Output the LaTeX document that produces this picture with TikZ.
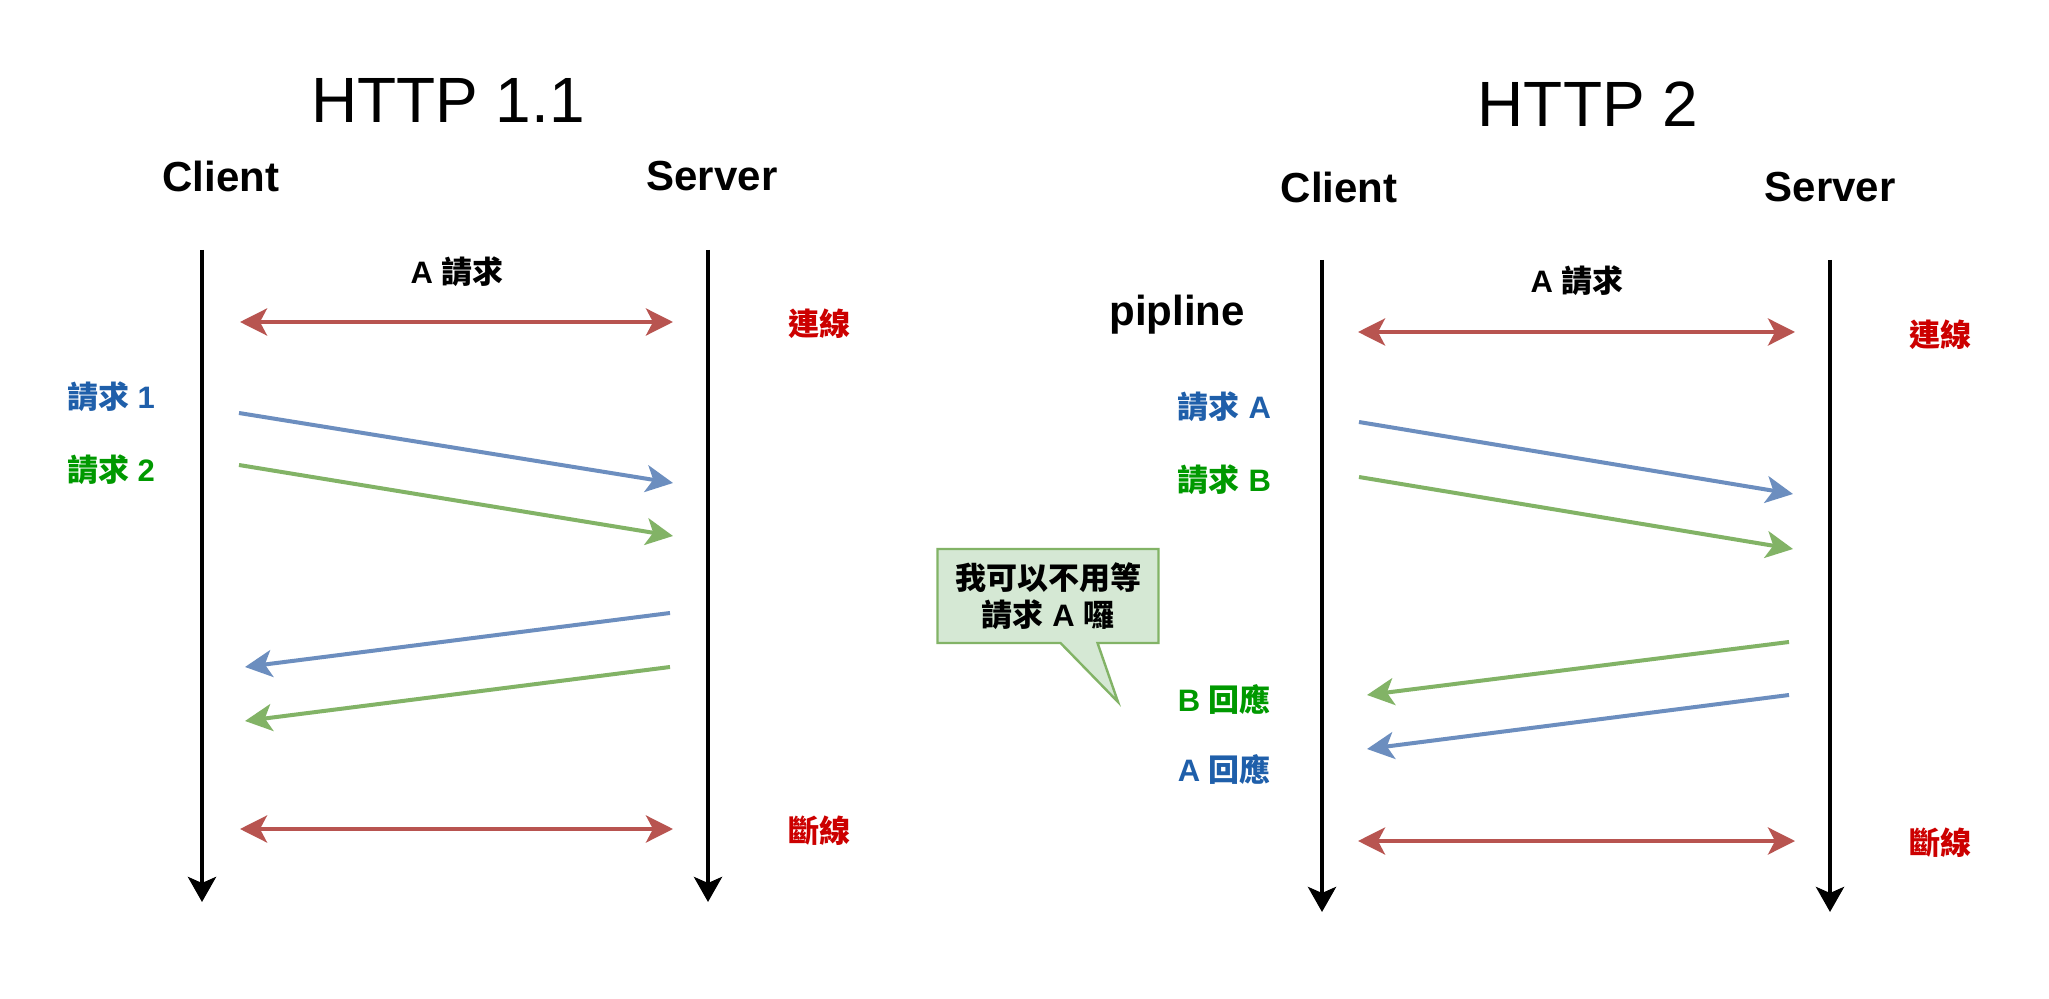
\documentclass[tikz,border=0pt]{standalone}
\usepackage{fontspec}
\setmainfont{Liberation Sans}
\newfontfamily\cjkfont{Noto Sans CJK TC}
\usetikzlibrary{arrows.meta, shapes.callouts}
\definecolor{connred}{HTML}{B85450}
\definecolor{reqblue}{HTML}{6C8EBF}
\definecolor{reqgreen}{HTML}{82B366}
\definecolor{txtred}{HTML}{CC0000}
\definecolor{txtblue}{HTML}{1F5FAA}
\definecolor{txtgreen}{HTML}{009900}
\definecolor{notefill}{HTML}{D5E8D4}
\newcommand{\zh}[1]{{\cjkfont\bfseries #1}}

\begin{document}
\begin{tikzpicture}[
  x=0.5pt, y=-0.5pt,
  font=\bfseries\fontsize{15.5}{18.5}\selectfont,
  msghd/.tip={Stealth[length=13.5pt, width=13.5pt, inset=3.5pt]},
  lifehd/.tip={Stealth[length=12.5pt, width=14pt, inset=3pt]},
  title/.style={font=\fontsize{32}{36}\selectfont},
  role/.style={font=\bfseries\fontsize{21}{24}\selectfont},
  life/.style={-lifehd, line width=2.2pt},
  twoway/.style={msghd-msghd, draw=connred, line width=2pt},
  msg/.style={-msghd, line width=2pt},
  note/.style={rectangle callout, draw=reqgreen, fill=notefill, line width=1.2pt, align=center,
    minimum width=110.5pt, minimum height=47pt, inner sep=0pt, callout pointer width=18.5pt}
]
\fill[white] (0,0) rectangle (2049,999);
\useasboundingbox (0,0) rectangle (2049,999);

% HTTP 1.1
\node[title] (t1) at (448,100) {HTTP 1.1};
\node[role] (client1) at (221,176) {Client};
\node[role] (server1) at (712,176) {Server};
\coordinate (c1top) at (202,250);
\coordinate (c1bot) at (202,902);
\coordinate (s1top) at (708,250);
\coordinate (s1bot) at (708,902);
\draw[life] (c1top) -- (c1bot);
\draw[life] (s1top) -- (s1bot);

\node (areq1) at (457,272) {A \zh{請求}};
\node[text=txtred] (open1) at (819,324) {\zh{連線}};
\node[text=txtblue] (req1) at (111,397) {\zh{請求} 1};
\node[text=txtgreen] (req2) at (111,470) {\zh{請求} 2};
\node[text=txtred] (close1) at (819,831) {\zh{斷線}};

\coordinate (c1open) at (240,322);
\coordinate (s1open) at (673,322);
\coordinate (c1r1) at (239,413);
\coordinate (s1r1) at (673,483);
\coordinate (c1r2) at (239,465);
\coordinate (s1r2) at (673,536);
\coordinate (s1a1) at (670,613);
\coordinate (c1a1) at (245,667);
\coordinate (s1a2) at (670,667);
\coordinate (c1a2) at (245,721);
\coordinate (c1close) at (240,829);
\coordinate (s1close) at (673,829);

\draw[twoway] (c1open) -- (s1open);
\draw[msg, draw=reqblue] (c1r1) -- (s1r1);
\draw[msg, draw=reqgreen] (c1r2) -- (s1r2);
\draw[msg, draw=reqblue] (s1a1) -- (c1a1);
\draw[msg, draw=reqgreen] (s1a2) -- (c1a2);
\draw[twoway] (c1close) -- (s1close);

% HTTP 2
\node[title] (t2) at (1588,104) {HTTP 2};
\node[role] (client2) at (1339,187) {Client};
\node[role] (server2) at (1830,187) {Server};
\coordinate (c2top) at (1322,260);
\coordinate (c2bot) at (1322,912);
\coordinate (s2top) at (1830,260);
\coordinate (s2bot) at (1830,912);
\draw[life] (c2top) -- (c2bot);
\draw[life] (s2top) -- (s2bot);

\node (areq2) at (1577,281) {A \zh{請求}};
\node[role] (pipe) at (1177,315) {pipline};
\node[text=txtred] (open2) at (1940,335) {\zh{連線}};
\node[text=txtblue, anchor=east] (reqa) at (1278,407) {\zh{請求} A};
\node[text=txtgreen, anchor=east] (reqb) at (1278,480) {\zh{請求} B};
\node[text=txtgreen, anchor=east] (resb) at (1278,700) {B \zh{回應}};
\node[text=txtblue, anchor=east] (resa) at (1278,770) {A \zh{回應}};
\node[text=txtred] (close2) at (1940,843) {\zh{斷線}};
\node[note, callout absolute pointer={(1118,702)}] (wait) at (1048,596)
  {\zh{我可以不用等}\\\zh{請求} A \zh{囉}};

\coordinate (c2open) at (1358,332);
\coordinate (s2open) at (1795,332);
\coordinate (c2ra) at (1359,422);
\coordinate (s2ra) at (1793,494);
\coordinate (c2rb) at (1359,477);
\coordinate (s2rb) at (1793,549);
\coordinate (s2ab) at (1789,642);
\coordinate (c2ab) at (1367,695);
\coordinate (s2aa) at (1789,695);
\coordinate (c2aa) at (1367,749);
\coordinate (c2close) at (1358,841);
\coordinate (s2close) at (1795,841);

\draw[twoway] (c2open) -- (s2open);
\draw[msg, draw=reqblue] (c2ra) -- (s2ra);
\draw[msg, draw=reqgreen] (c2rb) -- (s2rb);
\draw[msg, draw=reqgreen] (s2ab) -- (c2ab);
\draw[msg, draw=reqblue] (s2aa) -- (c2aa);
\draw[twoway] (c2close) -- (s2close);
\end{tikzpicture}
\end{document}
